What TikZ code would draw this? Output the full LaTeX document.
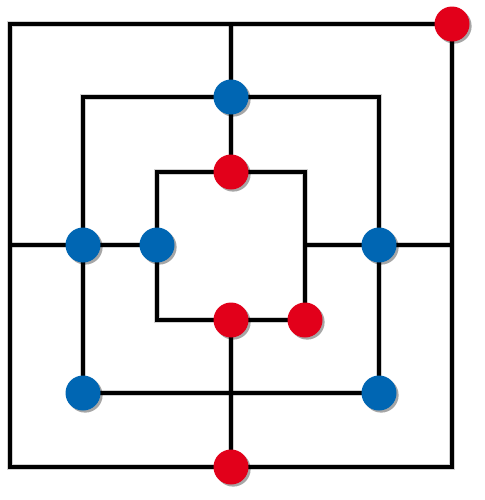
\documentclass[tikz,border=0pt]{standalone}
\usetikzlibrary{shadows}
\definecolor{pred}{HTML}{E2001A}
\definecolor{pblue}{HTML}{0066B3}
\tikzset{
  board/.style={line width=3pt, black, line join=miter},
  boardshadow/.style={line width=4.5pt, black, opacity=0.18, line join=miter, shift={(2.5,2.5)}},
  piece/.style={circle, minimum size=26.25pt, inner sep=0pt,
    drop shadow={shadow xshift=1.6pt, shadow yshift=-1.6pt, opacity=0.35, fill=black}},
  redpiece/.style={piece, fill=pred},
  bluepiece/.style={piece, fill=pblue},
}
\begin{document}
\begin{tikzpicture}[x=0.75pt, y=-0.75pt]
\useasboundingbox (0,0) rectangle (485,500);
% corner coordinates
\coordinate (o1) at (10,24);  \coordinate (o2) at (452,24);
\coordinate (o3) at (452,467); \coordinate (o4) at (10,467);
\coordinate (m1) at (83,97);  \coordinate (m2) at (379,97);
\coordinate (m3) at (379,393); \coordinate (m4) at (83,393);
\coordinate (i1) at (157,172); \coordinate (i2) at (305,172);
\coordinate (i3) at (305,320); \coordinate (i4) at (157,320);
\coordinate (ot) at (231,24);  \coordinate (ob) at (231,467);
\coordinate (ol) at (10,245);  \coordinate (or) at (452,245);
\coordinate (it) at (231,172); \coordinate (ib) at (231,320);
\coordinate (il) at (157,245); \coordinate (ir) at (305,245);
% shadows of the board
\draw[boardshadow] (o1) -- (o2) -- (o3) -- (o4) -- cycle;
\draw[boardshadow] (m1) -- (m2) -- (m3) -- (m4) -- cycle;
\draw[boardshadow] (i1) -- (i2) -- (i3) -- (i4) -- cycle;
\draw[boardshadow] (ot) -- (it);
\draw[boardshadow] (ib) -- (ob);
\draw[boardshadow] (ol) -- (il);
\draw[boardshadow] (ir) -- (or);
% board
\draw[board] (o1) -- (o2) -- (o3) -- (o4) -- cycle;
\draw[board] (m1) -- (m2) -- (m3) -- (m4) -- cycle;
\draw[board] (i1) -- (i2) -- (i3) -- (i4) -- cycle;
\draw[board] (ot) -- (it);
\draw[board] (ib) -- (ob);
\draw[board] (ol) -- (il);
\draw[board] (ir) -- (or);
% pieces
\node[redpiece]  (r1) at (o2) {};
\node[bluepiece] (b1) at (231,97) {};
\node[redpiece]  (r2) at (it) {};
\node[bluepiece] (b2) at (83,245) {};
\node[bluepiece] (b3) at (il) {};
\node[bluepiece] (b4) at (379,245) {};
\node[redpiece]  (r3) at (ib) {};
\node[redpiece]  (r4) at (i3) {};
\node[bluepiece] (b5) at (m4) {};
\node[bluepiece] (b6) at (m3) {};
\node[redpiece]  (r5) at (ob) {};
\end{tikzpicture}
\end{document}
